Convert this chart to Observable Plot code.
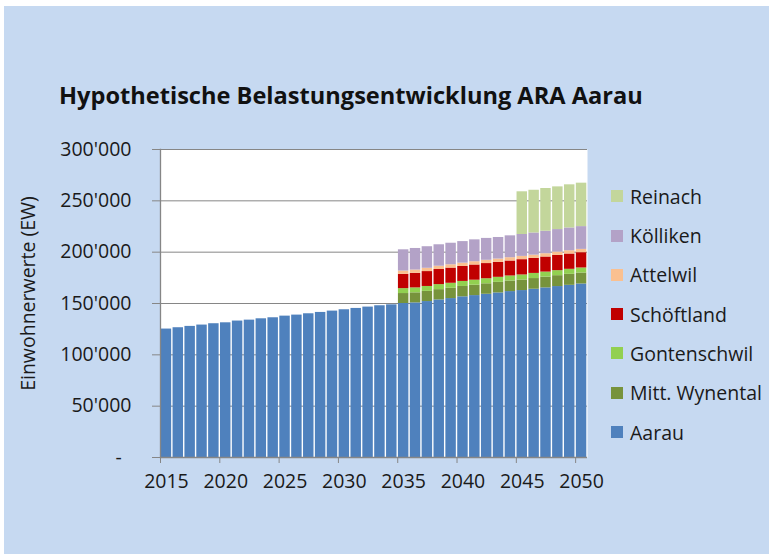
<!DOCTYPE html>
<html><head><meta charset="utf-8">
<script src="https://cdn.jsdelivr.net/npm/d3@7"></script>
<script src="https://cdn.jsdelivr.net/npm/@observablehq/plot@0.6"></script>
<style>
html,body{margin:0;padding:0;background:#fff;}
body{width:769px;height:554px;overflow:hidden;position:relative;font-family:"Open Sans",sans-serif;}
#bg{position:absolute;left:4px;top:6px;right:0;bottom:0;background:#c6d9f1;}
#chart{position:absolute;left:0;top:0;}
#title{position:absolute;left:59px;top:79px;font-weight:700;font-size:23.6px;line-height:32px;color:#111;white-space:nowrap;}
#legend{position:absolute;left:611px;top:0;}
.item{position:absolute;left:0;height:20px;display:flex;align-items:center;white-space:nowrap;font-size:19.5px;color:#1a1a1a;}
.sw{width:12px;height:12px;margin-right:7px;flex:none;}
</style></head>
<body>
<div id="bg"></div>
<div id="title">Hypothetische Belastungsentwicklung ARA Aarau</div>
<div id="chart"></div>
<div id="legend"></div>
<script>
const years = [2015,2016,2017,2018,2019,2020,2021,2022,2023,2024,2025,2026,2027,2028,2029,2030,2031,2032,2033,2034,2035,2036,2037,2038,2039,2040,2041,2042,2043,2044,2045,2046,2047,2048,2049,2050];
const laterYears = [2035,2036,2037,2038,2039,2040,2041,2042,2043,2044,2045,2046,2047,2048,2049,2050];
const tickYears = [2015,2020,2025,2030,2035,2040,2045,2050];
const yTicks = [0,50000,100000,150000,200000,250000,300000];

const seriesNames = ["Aarau","Mitt. Wynental","Gontenschwil","Schöftland","Attelwil","Kölliken","Reinach"];
const seriesColors = ["#4f81bd","#77933c","#92d050","#c00000","#fac090","#b3a2c7","#c3d69b"];

// Aarau, 2015–2050
const aarau = [125100,126400,127700,129000,130300,131200,132900,133800,135100,136100,137700,138700,140000,141300,142600,143900,145200,146500,147800,148700,150000,150600,151900,153500,154800,156500,157700,159000,160300,161600,162600,163900,165200,166500,167700,169000];
// 2035–2050
const mittWynental = [9700,9800,9900,10000,10000,10100,10100,10200,10300,10300,10300,10400,10500,10600,10700,10700];
const gontenschwil = [4800,4800,4800,4900,4900,4900,4900,4900,4900,4900,4900,5000,4900,4900,4900,4900];
const schoeftland = [13900,14200,14500,14700,14800,14600,14800,14800,14600,14600,14900,14600,14700,14900,14900,14900];
const attelwil = [3200,3200,3200,3200,3200,3200,3200,3200,3200,3200,3200,3200,3200,3200,3200,3200];
const koelliken = [20700,21000,21000,20900,21000,21000,21300,21300,21000,21300,21300,21600,21900,21900,22200,22200];
const reinach = [null,null,null,null,null,null,null,null,null,null,41600,41600,41600,41600,42000,42300];

const rows = [];
years.forEach((y,i) => rows.push({year:y, series:"Aarau", value:aarau[i]}));
const later = [["Mitt. Wynental",mittWynental],["Gontenschwil",gontenschwil],["Schöftland",schoeftland],["Attelwil",attelwil],["Kölliken",koelliken],["Reinach",reinach]];
for (const [name, arr] of later) laterYears.forEach((y,i) => { if (arr[i] != null) rows.push({year:y, series:name, value:arr[i]}); });

const W = 769, H = 554, mL = 160, mR = 182, mT = 149, mB = 97;
const step = (W - mL - mR) / years.length;
const fmt = d => d === 0 ? "-\u2002" : d3.format(",")(d).replace(/,/g, "'");

const chart = Plot.plot({
  width: W, height: H,
  marginLeft: mL, marginRight: mR, marginTop: mT, marginBottom: mB,
  style: {background: "transparent", fontFamily: "Open Sans", fontSize: "19.5px", color: "#1a1a1a", overflow: "visible"},
  x: {type: "band", domain: years, padding: 0},
  y: {domain: [0, 300000]},
  color: {domain: seriesNames, range: seriesColors},
  marks: [
    Plot.frame({fill: "white", stroke: null}),
    Plot.ruleY(yTicks, {stroke: "#868686", strokeWidth: 1}),
    Plot.barY(rows, {x: "year", y: "value", fill: "series", order: seriesNames, insetLeft: 0.7, insetRight: 0.7}),
    Plot.frame({anchor: "left", stroke: "#868686", strokeWidth: 1.3}),
    Plot.ruleY([0], {stroke: "#868686", strokeWidth: 1.3}),
    Plot.axisY({ticks: yTicks, tickSize: 8, tickPadding: 21, tickFormat: fmt, stroke: "#868686", fill: "#1a1a1a", fontSize: 19.5, label: null}),
    Plot.axisX({ticks: tickYears, tickSize: 6, tickFormat: () => "", dx: -step/2, stroke: "#868686", label: null}),
    Plot.text(tickYears, {x: d => d, frameAnchor: "bottom", dy: 30, text: d => String(d), fill: "#1a1a1a", fontSize: 19.5}),
    Plot.text(["Einwohnerwerte (EW)"], {frameAnchor: "left", textAnchor: "middle", rotate: -90, dx: -132, dy: -10, fill: "#1a1a1a", fontSize: 19.5})
  ]
});
document.getElementById("chart").appendChild(chart);

const legendCenters = {"Reinach":196,"Kölliken":235.5,"Attelwil":274.8,"Schöftland":314,"Gontenschwil":353.3,"Mitt. Wynental":392.7,"Aarau":432};
const leg = document.getElementById("legend");
[...seriesNames].reverse().forEach(name => {
  const it = document.createElement("div");
  it.className = "item";
  it.style.top = (legendCenters[name] - 10) + "px";
  const sw = document.createElement("div");
  sw.className = "sw";
  sw.style.background = seriesColors[seriesNames.indexOf(name)];
  const tx = document.createElement("span");
  tx.textContent = name;
  it.appendChild(sw); it.appendChild(tx);
  leg.appendChild(it);
});
</script>
</body></html>
